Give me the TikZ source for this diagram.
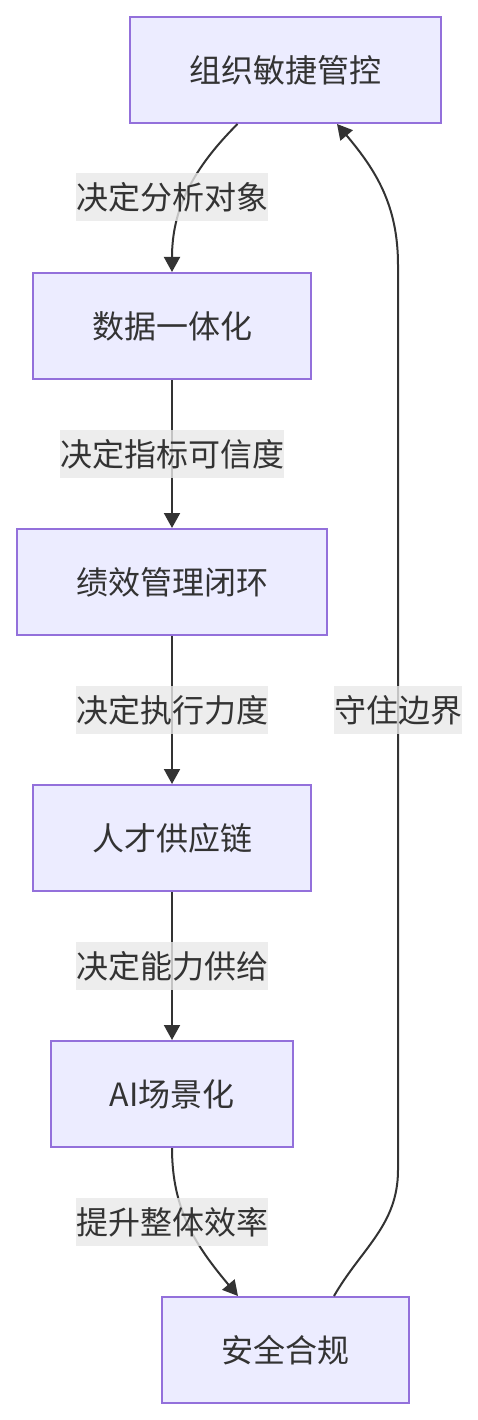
\documentclass[tikz,border=0pt]{standalone}
\usepackage{fontspec}
\newfontfamily\cjk{Noto Sans CJK SC}
\usetikzlibrary{arrows.meta}
\definecolor{boxfill}{HTML}{ECECFF}
\definecolor{boxline}{HTML}{9370DB}
\definecolor{ink}{HTML}{333333}
\definecolor{lblfill}{HTML}{E8E8E8}

\begin{document}
\begin{tikzpicture}[x=1pt, y=1pt, text=ink,
  box/.style={draw=boxline, fill=boxfill, line width=2pt,
    minimum height=106pt, inner sep=0pt,
    font=\cjk\fontsize{32}{48}\selectfont},
  lbl/.style={fill=lblfill, fill opacity=0.8, text opacity=1,
    inner sep=0pt, minimum height=48pt,
    font=\cjk\fontsize{32}{48}\selectfont},
  flow/.style={draw=ink, line width=2pt,
    -{Triangle[length=15pt,width=16pt]}}]
\useasboundingbox (0,0) rectangle (478,-1420);

\path (285,-70) node (agile) [box, minimum width=311pt] {组织敏捷管控};
\path (172,-326) node (data) [box, minimum width=278pt] {数据一体化};
\path (172,-582) node (perf) [box, minimum width=310pt] {绩效管理闭环};
\path (172,-838) node (talent) [box, minimum width=278pt] {人才供应链};
\path (172,-1094) node (aiscene) [box, minimum width=242pt] {AI场景化};
\path (285,-1350) node (safety) [box, minimum width=247pt] {安全合规};

% bends of the way back up
\coordinate (rise) at (398,-1170);
\coordinate (turn) at (398,-265);

% down the chain
\path[flow] ([xshift=-47.5pt]agile.south) to[out=-135, in=90] (data.north);
\path[flow] (data) -- (perf);
\path[flow] (perf) -- (talent);
\path[flow] (talent) -- (aiscene);
\path[flow] (aiscene.south) to[out=-90, in=130] ([xshift=-47pt]safety.north);

% back to the top
\path[flow] ([xshift=49pt]safety.north) to[out=60, in=-90] (rise)
  -- (turn) to[out=90, in=-50] ([xshift=52pt]agile.south);

\path (172,-197) node (l1) [lbl] {决定分析对象};
\path (172,-454) node (l2) [lbl] {决定指标可信度};
\path (172,-710) node (l3) [lbl] {决定执行力度};
\path (172,-966) node (l4) [lbl] {决定能力供给};
\path (172,-1222) node (l5) [lbl] {提升整体效率};
\path (398,-710) node (l6) [lbl] {守住边界};
\end{tikzpicture}
\end{document}
